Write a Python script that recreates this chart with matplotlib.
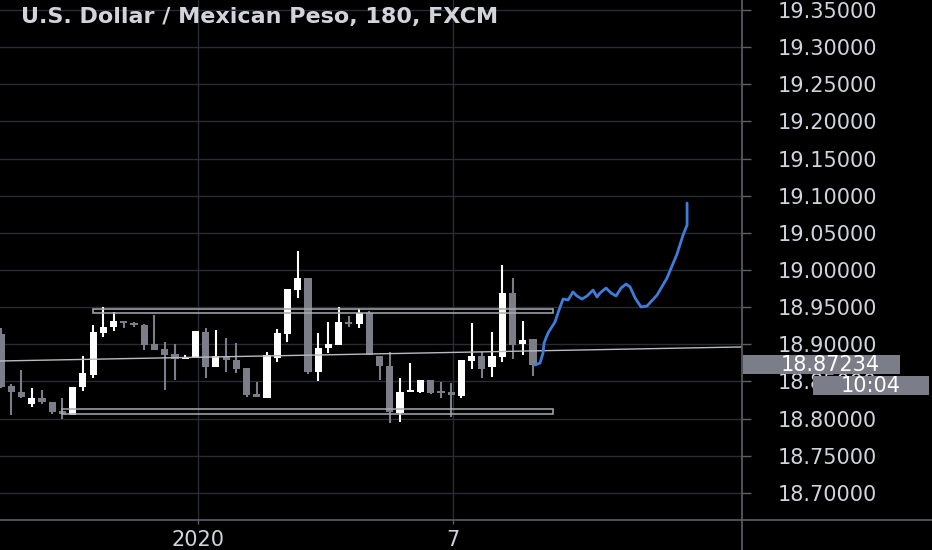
import matplotlib
matplotlib.use("Agg")
import matplotlib.pyplot as plt
import matplotlib.transforms as mtransforms
from matplotlib.patches import Rectangle
from matplotlib.lines import Line2D
import numpy as np

# ---------------- data ----------------
title = "U.S. Dollar / Mexican Peso, 180, FXCM"

opens = [18.914, 18.844, 18.836, 18.820, 18.828, 18.822, 18.810, 18.805, 18.843, 18.859,
         18.915, 18.923, 18.931, 18.927, 18.926, 18.900, 18.894, 18.887, 18.880, 18.882,
         18.917, 18.870, 18.883, 18.879, 18.868, 18.833, 18.828, 18.882, 18.914, 18.973,
         18.989, 18.863, 18.895, 18.899, 18.930, 18.927, 18.942, 18.884, 18.871, 18.808,
         18.836, 18.836, 18.852, 18.836, 18.836, 18.831, 18.878, 18.884, 18.870, 18.883,
         18.969, 18.900, 18.907]
highs = [18.922, 18.847, 18.866, 18.841, 18.839, 18.822, 18.828, 18.843, 18.884, 18.926,
         18.950, 18.944, 18.931, 18.930, 18.927, 18.940, 18.903, 18.900, 18.886, 18.918,
         18.922, 18.919, 18.909, 18.902, 18.868, 18.849, 18.890, 18.921, 18.975, 19.026,
         18.989, 18.915, 18.930, 18.950, 18.938, 18.948, 18.945, 18.884, 18.890, 18.855,
         18.875, 18.852, 18.852, 18.849, 18.848, 18.879, 18.929, 18.890, 18.917, 19.007,
         18.989, 18.931, 18.907]
lows = [18.841, 18.805, 18.828, 18.816, 18.820, 18.806, 18.800, 18.805, 18.837, 18.855,
        18.910, 18.918, 18.922, 18.923, 18.892, 18.892, 18.839, 18.852, 18.880, 18.882,
        18.855, 18.870, 18.863, 18.861, 18.829, 18.829, 18.828, 18.876, 18.903, 18.962,
        18.860, 18.851, 18.888, 18.899, 18.923, 18.922, 18.886, 18.852, 18.794, 18.796,
        18.836, 18.835, 18.833, 18.828, 18.802, 18.828, 18.867, 18.855, 18.856, 18.876,
        18.880, 18.886, 18.857]
closes = [18.843, 18.836, 18.829, 18.828, 18.822, 18.809, 18.806, 18.843, 18.861, 18.917,
          18.923, 18.931, 18.929, 18.926, 18.899, 18.892, 18.886, 18.880, 18.882, 18.918,
          18.870, 18.884, 18.879, 18.867, 18.832, 18.829, 18.886, 18.915, 18.975, 18.989,
          18.863, 18.895, 18.900, 18.930, 18.927, 18.942, 18.886, 18.871, 18.809, 18.836,
          18.839, 18.852, 18.835, 18.835, 18.832, 18.879, 18.884, 18.867, 18.884, 18.969,
          18.899, 18.906, 18.87234]

# range boxes drawn on the chart (bar index start/end, price low/high)
box_start = [9, 6]
box_end = [54, 54]
box_low = [18.9422, 18.8063]
box_high = [18.9476, 18.8130]

# thin trend line (bar index, price)
trend_x = [-0.1, 72.4]
trend_y = [18.8776, 18.8965]

# hand drawn projection (bar index, price)
proj_x = [52.20, 52.69, 52.98, 53.08, 53.47, 54.15, 54.54, 54.94, 55.43, 55.91,
          56.30, 56.79, 57.28, 57.87, 58.26, 58.55, 59.14, 59.63, 60.12, 60.61,
          61.10, 61.49, 61.98, 62.56, 63.15, 64.13, 65.10, 66.08, 66.67, 67.06, 67.06]
proj_y = [18.8722, 18.8749, 18.8884, 18.9018, 18.9153, 18.9301, 18.9462, 18.9610, 18.9597, 18.9705,
          18.9651, 18.9610, 18.9651, 18.9731, 18.9637, 18.9691, 18.9758, 18.9691, 18.9651, 18.9758,
          18.9812, 18.9772, 18.9624, 18.9503, 18.9516, 18.9664, 18.9893, 19.0216, 19.0472, 19.0606,
          19.0902]

ytick_values = [19.35, 19.30, 19.25, 19.20, 19.15, 19.10, 19.05, 19.00,
                18.95, 18.90, 18.85, 18.80, 18.75, 18.70]
xtick_pos = [19.26, 44.18]
xtick_labels = ["2020", "7"]
countdown = "10:04"

# ---------------- style ----------------
BG = "#000000"
UP = "#ffffff"
DOWN = "#7b7e89"
GRID = "#282c36"
TEXT = "#d1d4dc"
AXLINE = "#5d6068"

W, H = 932, 550
fig = plt.figure(figsize=(W / 100, H / 100), dpi=100, facecolor=BG)
ax = fig.add_axes([0, 30 / H, 742 / W, 520 / H])
ax.set_facecolor(BG)

x = np.arange(len(opens))
o = np.array(opens); c = np.array(closes)
hi = np.array(highs); lo = np.array(lows)
colors = [UP if cc >= oo else DOWN for oo, cc in zip(o, c)]
bottoms = np.minimum(o, c)
heights = np.maximum(np.abs(c - o), 0.0025)

ax.vlines(x, lo, hi, colors=colors, linewidth=1.5, zorder=3)
ax.bar(x, heights, bottom=bottoms, width=0.7, color=colors, edgecolor=colors,
       linewidth=0, zorder=4)

for s, e, l, h in zip(box_start, box_end, box_low, box_high):
    ax.add_patch(Rectangle((s, l), e - s, h - l, facecolor="none",
                           edgecolor="#a9abb2", linewidth=1.1, zorder=5))

ax.plot(trend_x, trend_y, color="#b9bbc0", linewidth=1.0, zorder=5)
ax.plot(proj_x, proj_y, color="#3f7ddb", linewidth=2.0, zorder=6,
        solid_capstyle="round", solid_joinstyle="round")

ax.set_xlim(-0.1, 72.43)
ax.set_ylim(18.66359, 19.36346)

for sp in ax.spines.values():
    sp.set_visible(False)

ax.set_axisbelow(True)
ax.grid(True, color=GRID, linewidth=1.0)

ax.yaxis.tick_right()
ax.set_yticks(ytick_values)
ax.set_yticklabels([f"{v:.5f}" for v in ytick_values])
ax.tick_params(axis="y", colors=AXLINE, labelcolor=TEXT, length=6.5, width=1,
               pad=55, labelsize=15)
for lbl in ax.get_yticklabels():
    lbl.set_horizontalalignment("center")
    lbl.set_fontfamily("DejaVu Sans")

ax.set_xticks(xtick_pos)
ax.set_xticklabels(xtick_labels)
ax.tick_params(axis="x", colors=AXLINE, labelcolor=TEXT, length=3, width=1,
               pad=4, labelsize=15)

# axis border lines
fig.add_artist(Line2D([0, 1], [30 / H, 30 / H], color=AXLINE, linewidth=1.2,
                      transform=fig.transFigure))
fig.add_artist(Line2D([742 / W, 742 / W], [0, 1], color=AXLINE, linewidth=1.2,
                      transform=fig.transFigure))

# current price label and countdown
last = closes[-1]
bt = mtransforms.blended_transform_factory(ax.transAxes, ax.transData)
px = 0.0013459  # price per pixel
box_h = 19 * px
ax.add_patch(Rectangle((743 / 742, last - box_h / 2), (900 - 743) / 742, box_h,
                       transform=bt, facecolor="#7b7e89", edgecolor="none",
                       clip_on=False, zorder=20))
ax.text(830 / 742, last, f"{last:.5f}", transform=bt, ha="center", va="center",
        color="#ffffff", fontsize=15, clip_on=False, zorder=21)
cd_y = last - 21 * px
ax.add_patch(Rectangle((813 / 742, cd_y - box_h / 2), (929 - 813) / 742, box_h,
                       transform=bt, facecolor="#7b7e89", edgecolor="none",
                       clip_on=False, zorder=20))
ax.text(871 / 742, cd_y, countdown, transform=bt, ha="center", va="center",
        color="#ffffff", fontsize=15, clip_on=False, zorder=21)

fig.text(21 / W, 1 - 17 / H, title, ha="left", va="center", color=TEXT,
         fontsize=16, fontweight="bold", family="DejaVu Sans")

fig.savefig("out.png", dpi=100, facecolor=BG)
